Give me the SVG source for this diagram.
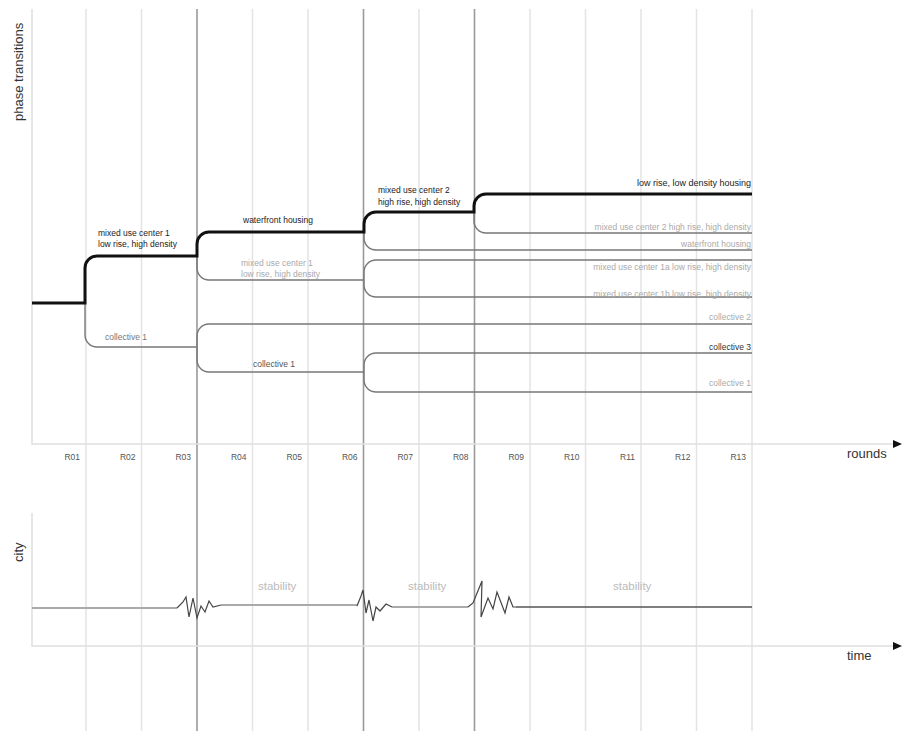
<svg xmlns="http://www.w3.org/2000/svg" width="902" height="731" viewBox="0 0 902 731">
<style>
text{font-family:"Liberation Sans",Arial,sans-serif}
.grid{stroke:#e4e4e4;stroke-width:1.5;fill:none}
.gridd{stroke:#9a9a9a;stroke-width:1.6;fill:none}
.axis{stroke:#e0e0e0;stroke-width:1.6;fill:none}
.thick{stroke:#111;stroke-width:3;fill:none}
.br{stroke:#777;stroke-width:1.4;fill:none}
.lbl{font-size:8.5px;fill:#222}
.lg{font-size:8.5px;fill:#aaa}
.rl{font-size:8.5px;fill:#555;text-anchor:end}
.stab{font-size:11.5px;fill:#bbb}
.ax{font-size:13px;fill:#333}
.zz{stroke:#444;stroke-width:1.2;fill:none}
.city{stroke:#aaa;stroke-width:2.2;fill:none}
</style>
<rect width="902" height="731" fill="#fff"/>
<g id="grid">
<path class="grid" d="M86,9V731M141.5,9V731M252.5,9V731M308,9V731M419,9V731M530,9V731M585.5,9V731M641,9V731M696.5,9V731M752,9V731"/>
<path class="gridd" d="M197,9V731M363.5,9V731M474.5,9V731"/>
</g>
<g id="axes">
<path class="axis" d="M32,9V444H895"/>
<path class="axis" d="M32,513V646H895"/>
<polygon points="893,440 902,444 893,448" fill="#111"/>
<polygon points="893,642 902,646 893,650" fill="#111"/>
<text class="ax" x="23" y="121" transform="rotate(-90 23 121)" font-size="12.5">phase transitions</text>
<text class="ax" x="847" y="458">rounds</text>
<text class="ax" x="23" y="562" transform="rotate(-90 23 562)">city</text>
<text class="ax" x="847" y="660">time</text>
</g>
<g id="round-labels">
<text class="rl" x="80" y="460">R01</text>
<text class="rl" x="135.5" y="460">R02</text>
<text class="rl" x="191" y="460">R03</text>
<text class="rl" x="246.5" y="460">R04</text>
<text class="rl" x="302" y="460">R05</text>
<text class="rl" x="357.5" y="460">R06</text>
<text class="rl" x="413" y="460">R07</text>
<text class="rl" x="468.5" y="460">R08</text>
<text class="rl" x="524" y="460">R09</text>
<text class="rl" x="579.5" y="460">R10</text>
<text class="rl" x="635" y="460">R11</text>
<text class="rl" x="690.5" y="460">R12</text>
<text class="rl" x="746" y="460">R13</text>
</g>
<g id="connectors">
<path class="br" d="M85,303V335A12,12 0 0 0 97,347H197"/>
<path class="br" d="M197,347V336A12,12 0 0 1 209,324H752"/>
<path class="br" d="M197,347V360A12,12 0 0 0 209,372H364"/>
<path class="br" d="M364,372V365A12,12 0 0 1 376,353H752"/>
<path class="br" d="M364,372V380A12,12 0 0 0 376,392H752"/>
<path class="br" d="M197,256V268A12,12 0 0 0 209,280H364"/>
<path class="br" d="M364,280V272A12,12 0 0 1 376,260H752"/>
<path class="br" d="M364,280V285A12,12 0 0 0 376,297H752"/>
<path class="br" d="M364,232V238A12,12 0 0 0 376,250H752"/>
<path class="br" d="M474,212V221A12,12 0 0 0 486,233H752"/>
<path class="thick" d="M32,303H85V268A12,12 0 0 1 97,256H197V244A12,12 0 0 1 209,232H364V224A12,12 0 0 1 376,212H474V206A12,12 0 0 1 486,194H752"/>
</g>
<g id="phase-labels">
<text class="lbl" x="98" y="236">mixed use center 1</text>
<text class="lbl" x="98" y="247">low rise, high density</text>
<text class="lbl" x="105" y="340" fill="#777" style="fill:#777">collective 1</text>
<text class="lbl" x="243" y="223">waterfront housing</text>
<text class="lg" x="241" y="266">mixed use center 1</text>
<text class="lg" x="241" y="277">low rise, high density</text>
<text class="lbl" x="253" y="367" style="fill:#555">collective 1</text>
<text class="lbl" x="378" y="193">mixed use center 2</text>
<text class="lbl" x="378" y="205">high rise, high density</text>
<text class="lbl" x="751" y="186" text-anchor="end" font-size="9" style="font-size:9px">low rise, low density housing</text>
<text class="lg" x="751" y="230" text-anchor="end">mixed use center 2 high rise, high density</text>
<text class="lg" x="751" y="247" text-anchor="end">waterfront housing</text>
<text class="lg" x="751" y="270" text-anchor="end">mixed use center 1a low rise, high density</text>
<text class="lg" x="751" y="297" text-anchor="end">mixed use center 1b low rise, high density</text>
<text class="lg" x="751" y="320" text-anchor="end">collective 2</text>
<text class="lbl" x="751" y="350" text-anchor="end" style="fill:#333">collective 3</text>
<text class="lg" x="751" y="386" text-anchor="end">collective 1</text>
</g>
<g id="city-line">
<path class="city" d="M32,608H177"/>
<polyline class="zz" points="177,608 183,602 186,597 189,617 193,598 197,618 201,606 205,612 209,601 213,607 221,605"/>
<path class="city" d="M221,605H357"/>
<polyline class="zz" points="357,606 361,596 363,590 366,613 369,600 373,621 376,607 380,611 386,604 392,607"/>
<path class="city" d="M392,607H468"/>
<polyline class="zz" points="468,607 473,603 482,581 481,617 488,598 493,609 497,592 505,613 509,597 513,607 516,607"/>
<path d="M516,607H752" stroke="#555" stroke-width="1.5" fill="none"/>
<text class="stab" x="258" y="590">stability</text>
<text class="stab" x="408" y="590">stability</text>
<text class="stab" x="613" y="590">stability</text>
</g>
</svg>
